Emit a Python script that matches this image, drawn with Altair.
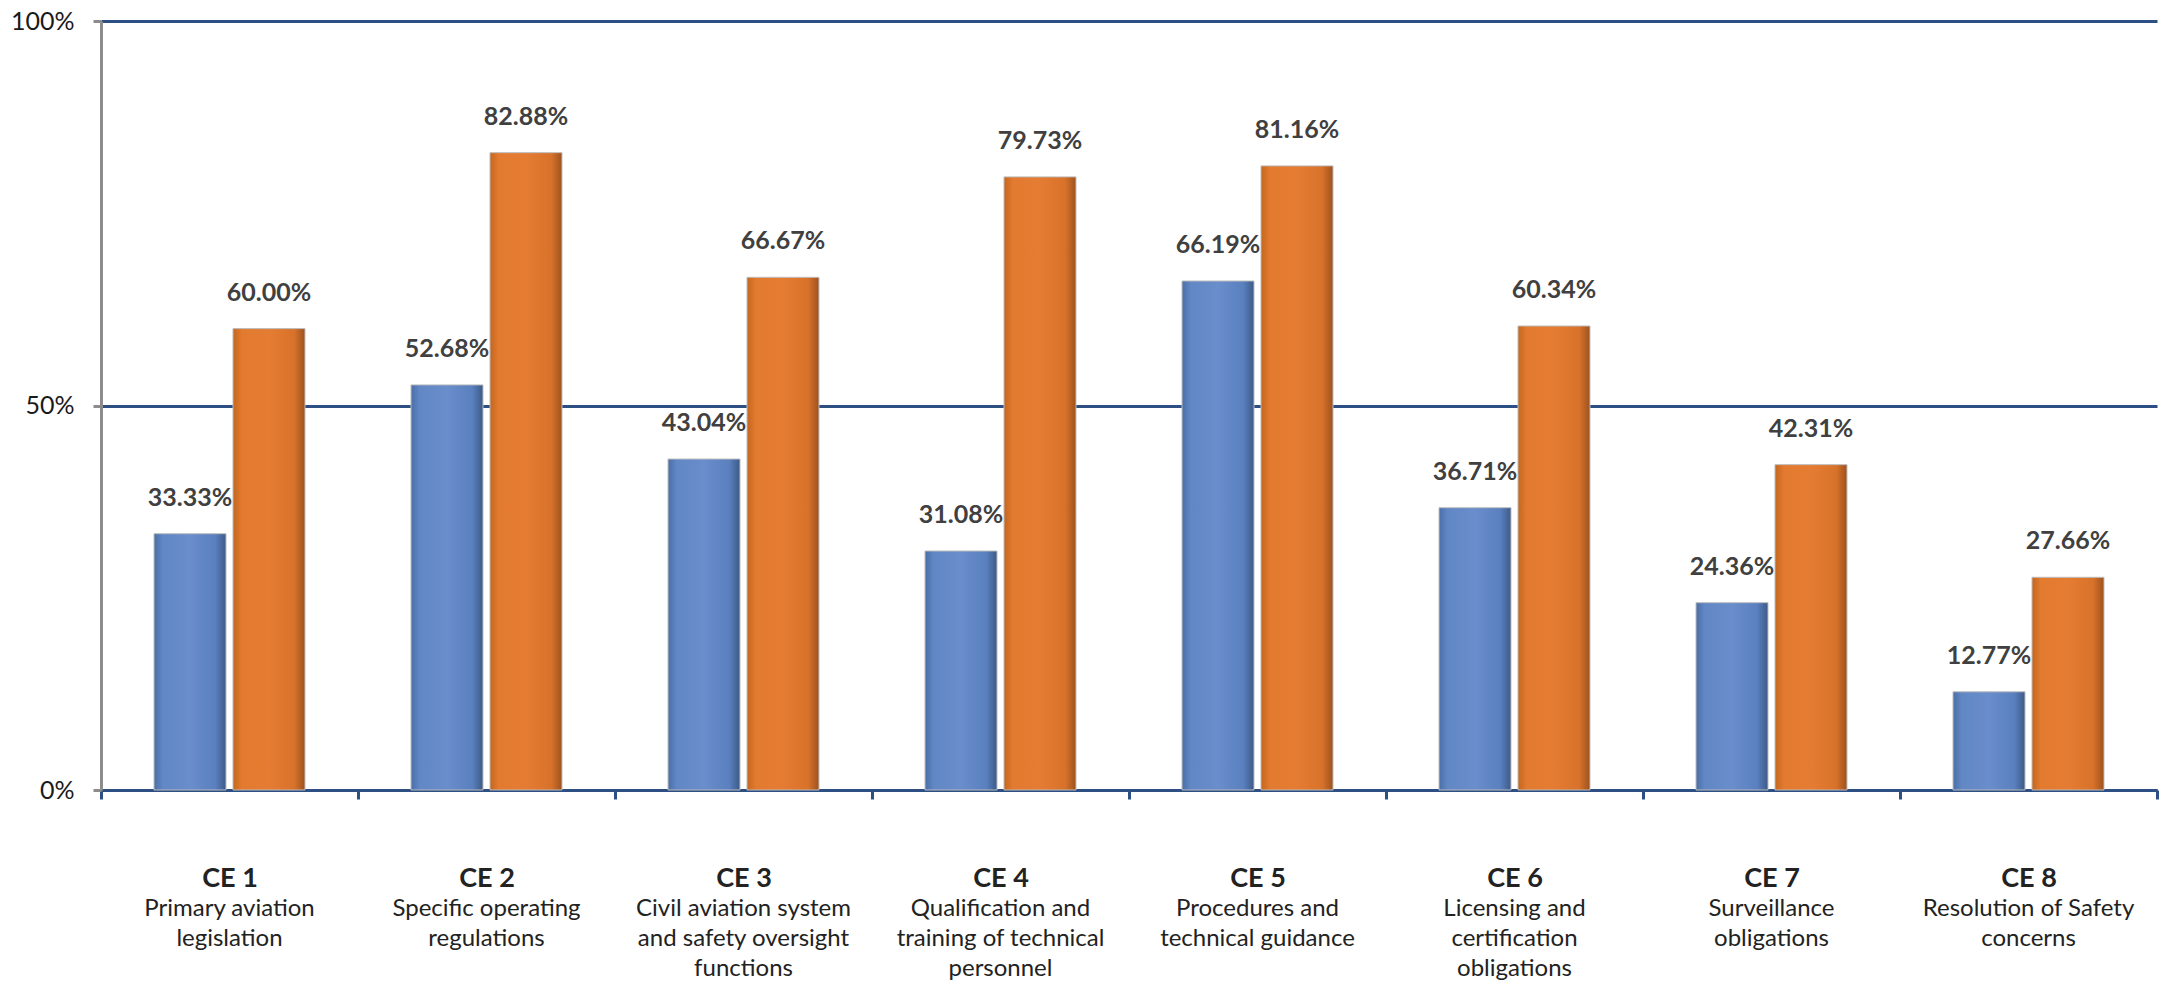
import altair as alt
import pandas as pd

# ---- data ----
codes = ["CE 1", "CE 2", "CE 3", "CE 4", "CE 5", "CE 6", "CE 7", "CE 8"]
descriptions = [
    "Primary aviation|legislation",
    "Specific operating|regulations",
    "Civil aviation system|and safety oversight|functions",
    "Qualification and|training of technical|personnel",
    "Procedures and|technical guidance",
    "Licensing and|certification|obligations",
    "Surveillance|obligations",
    "Resolution of Safety|concerns",
]
series_names = ["Series 1", "Series 2"]
series_1 = [33.33, 52.68, 43.04, 31.08, 66.19, 36.71, 24.36, 12.77]
series_2 = [60.00, 82.88, 66.67, 79.73, 81.16, 60.34, 42.31, 27.66]
y_ticks = [0, 50, 100]

cats = [f"{c}|{d}" for c, d in zip(codes, descriptions)]
rows = []
for cat, a, b in zip(cats, series_1, series_2):
    rows.append({"cat": cat, "series": series_names[0], "value": a})
    rows.append({"cat": cat, "series": series_names[1], "value": b})
df = pd.DataFrame(rows)

BLUE_LINE = "#2d4f84"
GRAY = "#8c8c8c"

x_scale = alt.Scale(domain=cats, paddingInner=0, paddingOuter=0)
xo_scale = alt.Scale(domain=series_names, paddingInner=0.0886, paddingOuter=0.671)
y_scale = alt.Scale(domain=[0, 100], nice=False)

y_axis = alt.Axis(
    values=y_ticks, labelExpr="datum.value + '%'", title=None,
    grid=True, gridColor=BLUE_LINE, gridWidth=3,
    domainColor=GRAY, domainWidth=3, tickColor=GRAY, tickWidth=3, tickSize=8,
    labelPadding=19, labelFont="Lato", labelFontSize=25, labelColor="#1a1a1a",
)

x_axis_codes = alt.Axis(
    title=None, orient="bottom",
    labelExpr="isString(datum.value) ? split(datum.value, '|')[0] : ''", labelAngle=0,
    labelFont="Lato", labelFontSize=27, labelFontWeight="bold", labelColor="#222222",
    tickBand="extent", tickColor=BLUE_LINE, tickWidth=3, tickSize=9,
    domainColor=BLUE_LINE, domainWidth=3, labelPadding=66, labelBaseline="top",
    labelLimit=400, labelOverlap=False, grid=False,
)

x_axis_desc = alt.Axis(
    title=None, orient="bottom",
    labelExpr="isString(datum.value) ? slice(split(datum.value, '|'), 1) : ''", labelAngle=0,
    labelFont="Lato", labelFontSize=24, labelColor="#222222", labelLineHeight=30,
    domain=False, ticks=False, tickSize=0, labelPadding=106, labelBaseline="top",
    labelLimit=400, labelOverlap=False, grid=False,
)


def grad(stops):
    return alt.Gradient(
        gradient="linear", x1=0, x2=1, y1=0, y2=0,
        stops=[alt.GradientStop(offset=o, color=c) for o, c in stops],
    )


blue_fill = grad([(0, "#4a6ea6"), (0.12, "#6187c5"), (0.5, "#6a8dcb"),
                  (0.85, "#5a80bf"), (1, "#3d5a88")])
orange_fill = grad([(0, "#c4661f"), (0.12, "#e27a2f"), (0.5, "#e57c33"),
                    (0.85, "#d8722a"), (1, "#9c521f")])

base = alt.Chart(df)


def bars(name, fill, axis):
    return base.transform_filter(alt.datum.series == name).mark_bar(
        fill=fill, stroke="#bdbdbd", strokeWidth=1
    ).encode(
        x=alt.X("cat:N", scale=x_scale, axis=axis, sort=cats),
        xOffset=alt.XOffset("series:N", scale=xo_scale),
        y=alt.Y("value:Q", scale=y_scale, axis=y_axis),
    )


def labels(name, axis):
    return base.transform_filter(alt.datum.series == name).transform_calculate(
        label="format(datum.value, '.2f') + '%'"
    ).mark_text(
        dy=-28, baseline="alphabetic", align="center",
        font="Lato", fontSize=25, fontWeight="bold", color="#404040",
    ).encode(
        x=alt.X("cat:N", scale=x_scale, axis=axis, sort=cats),
        xOffset=alt.XOffset("series:N", scale=xo_scale),
        y=alt.Y("value:Q", scale=y_scale, axis=y_axis),
        text="label:N",
    )


chart = alt.layer(
    bars(series_names[0], blue_fill, x_axis_codes),
    bars(series_names[1], orange_fill, None),
    labels(series_names[0], None),
    labels(series_names[1], x_axis_desc),
).resolve_axis(x="independent").properties(
    width=2056, height=769,
    autosize=alt.AutoSizeParams(type="none"),
    padding={"left": 93, "top": 13, "right": 2, "bottom": 191},
    background="white",
).configure_view(stroke=None)

chart.save("out.html", embed_options={"renderer": "svg", "actions": False})
